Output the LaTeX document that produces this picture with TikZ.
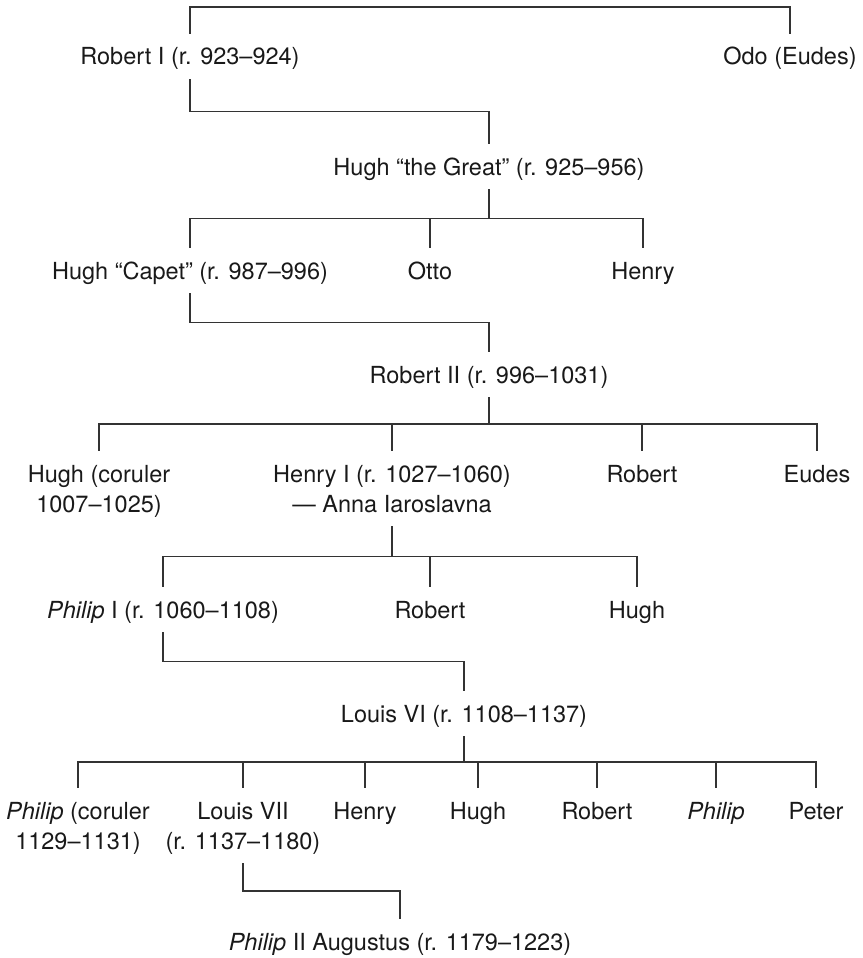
\documentclass[tikz,border=0pt]{standalone}
\usepackage{fontspec}
\setmainfont{TeX Gyre Heros}
\usetikzlibrary{calc}

\begin{document}
\begin{tikzpicture}[x=1pt,y=-1pt,
      person/.style={anchor=base,inner sep=0pt,text height=31pt,text depth=14pt,
        font=\fontsize{23.5}{30}\selectfont,text=black!90},
      twoline/.style={person,align=center,text height=61pt},
      kin/.style={draw=black!80,line width=1.1pt},
      descent/.style={to path={|- ($(\tikztostart)!.5!(\tikztotarget)$) -| (\tikztotarget)}}]
      \useasboundingbox (0,0) rectangle (862,958);
      \coordinate (top) at (490,7);

      \node[person] (robertI) at (190,65) {Robert I (r. 923–924)};
      \node[person] (odo) at (790,65) {Odo (Eudes)};
      \node[person] (hughG) at (489,175) {Hugh “the Great” (r. 925–956)};
      \node[person] (hughC) at (190,279) {Hugh “Capet” (r. 987–996)};
      \node[person] (otto) at (430,279) {Otto};
      \node[person] (henryA) at (643,279) {Henry};
      \node[person] (robertII) at (489,383) {Robert II (r. 996–1031)};
      \node[twoline] (hughCo) at (99,512) {Hugh (coruler\\1007–1025)};
      \node[twoline] (henryI) at (392,512) {Henry I (r. 1027–1060)\\— Anna Iaroslavna};
      \node[person] (robertA) at (642,482) {Robert};
      \node[person] (eudes) at (817,482) {Eudes};
      \node[person] (philipI) at (163,618) {\textit{Philip} I (r. 1060–1108)};
      \node[person] (robertB) at (430,618) {Robert};
      \node[person] (hughB) at (637,618) {Hugh};
      \node[person] (louisVI) at (464,722) {Louis VI (r. 1108–1137)};
      \node[twoline] (philipCo) at (78,849) {\textit{Philip} (coruler\\1129–1131)};
      \node[twoline] (louisVII) at (243,849) {Louis VII\\(r. 1137–1180)};
      \node[person] (henryB) at (365,819) {Henry};
      \node[person] (hughD) at (478,819) {Hugh};
      \node[person] (robertC) at (597,819) {Robert};
      \node[person] (philipB) at (716,819) {\textit{Philip}};
      \node[person] (peter) at (816,819) {Peter};
      \node[person] (philipII) at (400,950) {\textit{Philip} II Augustus (r. 1179–1223)};

      \draw[kin] (robertI.north) |- (odo.north |- top) -- (odo.north);
      \draw[kin]
        (robertI.south) edge[descent] (hughG.north)
        (hughG.south) edge[descent] (hughC.north)
        (hughG.south) edge[descent] (otto.north)
        (hughG.south) edge[descent] (henryA.north)
        (hughC.south) edge[descent] (robertII.north)
        (robertII.south) edge[descent] (hughCo.north)
        (robertII.south) edge[descent] (henryI.north)
        (robertII.south) edge[descent] (robertA.north)
        (robertII.south) edge[descent] (eudes.north)
        (henryI.south) edge[descent] (philipI.north)
        (henryI.south) edge[descent] (robertB.north)
        (henryI.south) edge[descent] (hughB.north)
        (philipI.south) edge[descent] (louisVI.north)
        (louisVI.south) edge[descent] (philipCo.north)
        (louisVI.south) edge[descent] (louisVII.north)
        (louisVI.south) edge[descent] (henryB.north)
        (louisVI.south) edge[descent] (hughD.north)
        (louisVI.south) edge[descent] (robertC.north)
        (louisVI.south) edge[descent] (philipB.north)
        (louisVI.south) edge[descent] (peter.north)
        (louisVII.south) edge[descent] (philipII.north);
    \end{tikzpicture}
\end{document}
